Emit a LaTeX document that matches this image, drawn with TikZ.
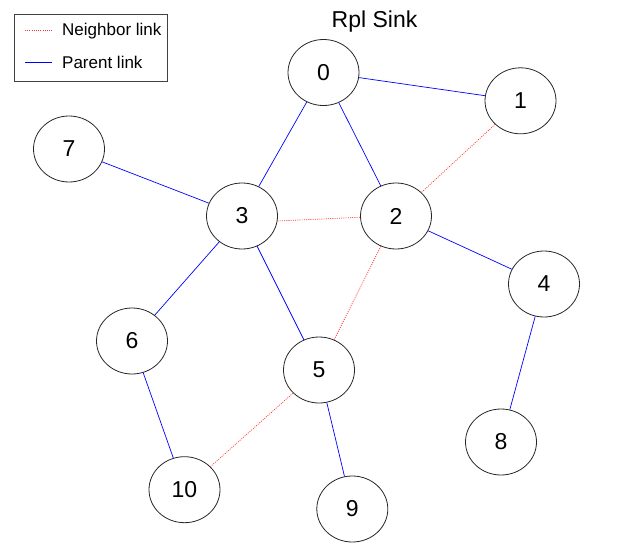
\documentclass[tikz,border=0pt]{standalone}
\usepackage{fontspec}
\setmainfont{Liberation Sans}
\usetikzlibrary{shapes.geometric}
\begin{document}
\begin{tikzpicture}[x=1pt,y=-1pt,
  nd/.style={ellipse,draw=black!85,line width=0.8pt,minimum width=71pt,minimum height=66pt,inner sep=0pt,font=\fontsize{23}{27}\selectfont},
  par/.style={draw=blue,line width=0.7pt},
  nbr/.style={draw=red!80,line width=0.7pt,dash pattern=on 1pt off 1.2pt}]
\useasboundingbox (0,0) rectangle (626,549);
% legend
\node[draw=black!75,line width=0.9pt,minimum width=153pt,minimum height=67.5pt,inner sep=0pt] (legend) at (90.5,48) {};
\coordinate (n1) at (25,30); \coordinate (n2) at (52,30);
\coordinate (p1) at (25,62); \coordinate (p2) at (52,62);
\draw[nbr,line width=0.6pt] (n1) -- (n2);
\draw[par] (p1) -- (p2);
\node[anchor=base west,inner sep=0pt,font=\fontsize{17}{20}\selectfont] (lt1) at (62,35) {Neighbor link};
\node[anchor=base west,inner sep=0pt,font=\fontsize{17}{20}\selectfont] (lt2) at (62,68) {Parent link};
% title
\node[anchor=base,inner sep=0pt,font=\fontsize{23}{27}\selectfont] (title) at (374.5,27) {Rpl Sink};
% nodes
\node[nd] (0) at (323.5,72.5) {0};
\node[nd] (1) at (520.5,100.8) {1};
\node[nd] (7) at (69,149) {7};
\node[nd] (3) at (242,216) {3};
\node[nd] (2) at (396,216) {2};
\node[nd] (4) at (544,284) {4};
\node[nd] (6) at (132,341) {6};
\node[nd] (5) at (319,370) {5};
\node[nd] (8) at (501,442) {8};
\node[nd] (10) at (184.5,489.7) {10};
\node[nd] (9) at (352.3,509) {9};
% parent links
\draw[par] (0) -- (1);
\draw[par] (0) -- (3);
\draw[par] (0) -- (2);
\draw[par] (7) -- (3);
\draw[par] (2) -- (4);
\draw[par] (3) -- (6);
\draw[par] (3) -- (5);
\draw[par] (6) -- (10);
\draw[par] (5) -- (9);
\draw[par] (4) -- (8);
% neighbor links
\draw[nbr] (1) -- (2);
\draw[nbr] (3.-8) -- (2.182);
\draw[nbr] (2) -- (5);
\draw[nbr] (5) -- (10);
\end{tikzpicture}
\end{document}
